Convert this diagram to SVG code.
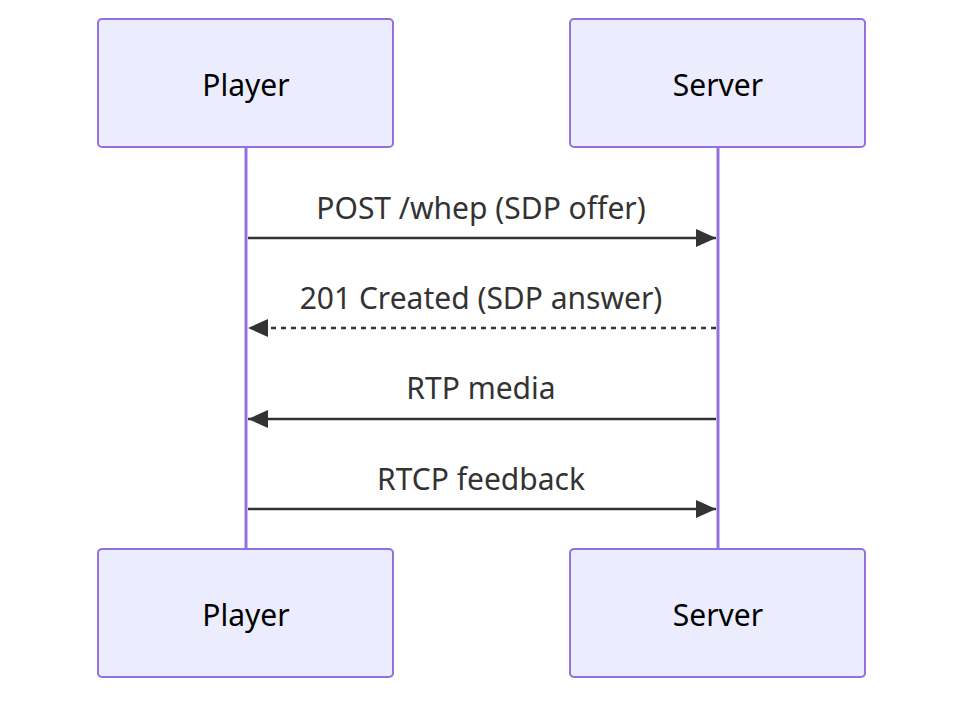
<svg xmlns="http://www.w3.org/2000/svg" width="980" height="710" viewBox="0 0 980 710">
<style>
.actor{fill:#ECECFF;stroke:#9370DB;stroke-width:2}
.atext{font-family:"Noto Sans","DejaVu Sans",sans-serif;font-size:30px;fill:#000;text-anchor:middle;dominant-baseline:central}
.life{stroke:#9370DB;stroke-width:3}
.msg{stroke:#333;stroke-width:2.5;fill:none}
.dash{stroke-dasharray:5 5}
.mtext{font-family:"Noto Sans","DejaVu Sans",sans-serif;font-size:30px;fill:#333;text-anchor:middle;dominant-baseline:central}
</style>
<defs>
<marker id="ah" viewBox="0 0 20 20" refX="20" refY="10" markerWidth="20" markerHeight="20" markerUnits="userSpaceOnUse" orient="auto">
<path d="M0,1 L20,10 L0,19 Z" fill="#333"/>
</marker>
</defs>
<g id="lifelines">
<line class="life" x1="246" y1="147" x2="246" y2="549"/>
<line class="life" x1="718" y1="147" x2="718" y2="549"/>
</g>
<g id="player-top"><rect class="actor" x="98" y="19" width="295" height="128" rx="4"/><text class="atext" x="246" y="84">Player</text></g>
<g id="server-top"><rect class="actor" x="570" y="19" width="295" height="128" rx="4"/><text class="atext" x="718" y="84">Server</text></g>
<g id="player-bottom"><rect class="actor" x="98" y="549" width="295" height="128" rx="4"/><text class="atext" x="246" y="614">Player</text></g>
<g id="server-bottom"><rect class="actor" x="570" y="549" width="295" height="128" rx="4"/><text class="atext" x="718" y="614">Server</text></g>
<g id="connectors">
<line class="msg" x1="248" y1="238" x2="716" y2="238" marker-end="url(#ah)"/>
<line class="msg dash" x1="716" y1="328" x2="248" y2="328" marker-end="url(#ah)"/>
<line class="msg" x1="716" y1="419" x2="248" y2="419" marker-end="url(#ah)"/>
<line class="msg" x1="248" y1="509" x2="716" y2="509" marker-end="url(#ah)"/>
<text class="mtext" x="481" y="207">POST /whep (SDP offer)</text>
<text class="mtext" x="481" y="297">201 Created (SDP answer)</text>
<text class="mtext" x="481" y="387">RTP media</text>
<text class="mtext" x="481" y="478">RTCP feedback</text>
</g>
</svg>
